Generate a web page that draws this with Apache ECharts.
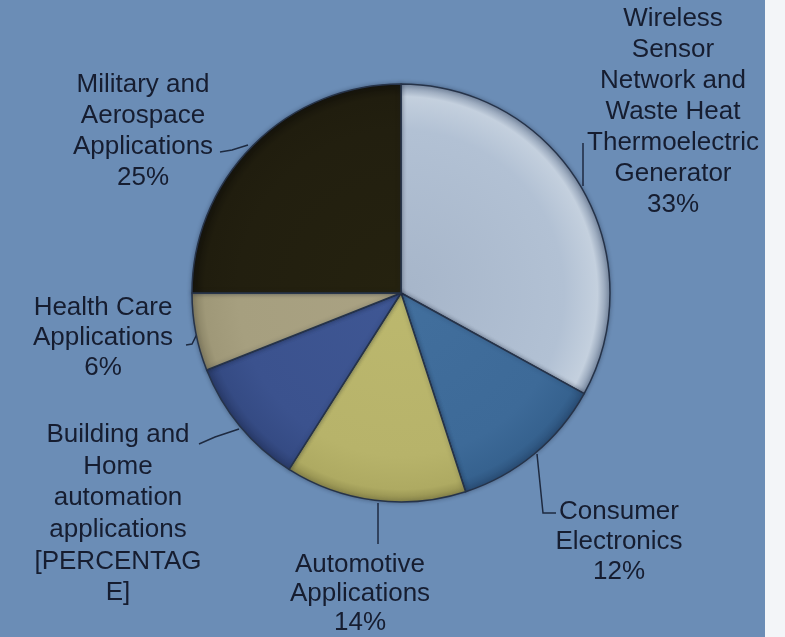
<!DOCTYPE html>
<html>
<head>
<meta charset="utf-8">
<script src="https://cdn.jsdelivr.net/npm/echarts@6/dist/echarts.min.js"></script>
<style>
  html, body { margin: 0; padding: 0; background: #f3f5f8; }
  #chart { width: 765px; height: 637px; }
</style>
</head>
<body>
<div id="chart"></div>
<script>
// Market share of thermoelectric generator applications
const categories = [
  'Wireless\nSensor\nNetwork and\nWaste Heat\nThermoelectric\nGenerator',
  'Consumer\nElectronics',
  'Automotive\nApplications',
  'Building and\nHome\nautomation\napplications\n[PERCENTAG\nE]',
  'Health Care\nApplications',
  'Military and\nAerospace\nApplications'
];
const shares = [33, 12, 14, 10, 6, 25];
const showPercent = [true, true, true, false, true, true];

// slice fills: [inner, body, rim, edge]
const sliceColors = [
  ['#a6b5c9', '#b2c1d4', '#c4d0de', '#7f90a8'],
  ['#426f9d', '#3d6a98', '#36628f', '#2b5079'],
  ['#bcb86e', '#b7b36a', '#aeaa62', '#8e8a4c'],
  ['#3f5794', '#3b528e', '#354b84', '#2a3c6c'],
  ['#aaa283', '#a69f7f', '#9f9878', '#857f62'],
  ['#25220f', '#221f0f', '#201d0e', '#15130a']
];

// label anchor (block centre), line height and leader polyline for each slice
const labelPlacement = [
  { x: 673, y: 112, lh: 31, line: [[583, 186], [583, 143]] },
  { x: 619, y: 542, lh: 30, line: [[537, 454], [543, 513], [556, 513]] },
  { x: 360, y: 594, lh: 29, line: [[378, 503], [378, 544]] },
  { x: 118, y: 514, lh: 31.6, line: [[239, 429], [215, 437], [199, 444]] },
  { x: 103, y: 338, lh: 30, line: [[197, 334], [192, 344], [186, 345]] },
  { x: 143, y: 131, lh: 31, line: [[248, 145], [232, 150], [220, 152]] }
];

const CX = 401, CY = 293, R = 209;

const chart = echarts.init(document.getElementById('chart'), null, { renderer: 'canvas' });

const seriesData = categories.map((name, i) => {
  const c = sliceColors[i];
  return {
    name: name,
    value: shares[i],
    itemStyle: {
      color: {
        type: 'radial', x: CX, y: CY, r: R, global: true,
        colorStops: [
          { offset: 0, color: c[0] },
          { offset: 0.78, color: c[1] },
          { offset: 0.94, color: c[2] },
          { offset: 1, color: c[3] }
        ]
      }
    },
    label: { lineHeight: labelPlacement[i].lh }
  };
});

chart.setOption({
  backgroundColor: '#6b8db6',
  animation: false,
  series: [{
    type: 'pie',
    center: [CX, CY],
    radius: R,
    startAngle: 90,
    clockwise: true,
    data: seriesData,
    itemStyle: {
      borderColor: '#263349',
      borderWidth: 1.5,
      shadowColor: 'rgba(20,30,50,0.35)',
      shadowBlur: 4
    },
    label: {
      show: true,
      position: 'outside',
      color: '#161d30',
      fontFamily: 'Liberation Sans, Arial, sans-serif',
      fontSize: 26,
      align: 'center',
      overflow: 'none',
      width: 260,
      formatter: p => showPercent[p.dataIndex] ? p.name + '\n' + p.value + '%' : p.name
    },
    labelLine: {
      show: true,
      lineStyle: { color: '#1e2a40', width: 1.5 }
    },
    labelLayout: params => {
      const lp = labelPlacement[params.dataIndex];
      return {
        x: lp.x,
        y: lp.y,
        align: 'center',
        verticalAlign: 'middle',
        labelLinePoints: lp.line
      };
    },
    emphasis: { disabled: true }
  }]
});
</script>
</body>
</html>
